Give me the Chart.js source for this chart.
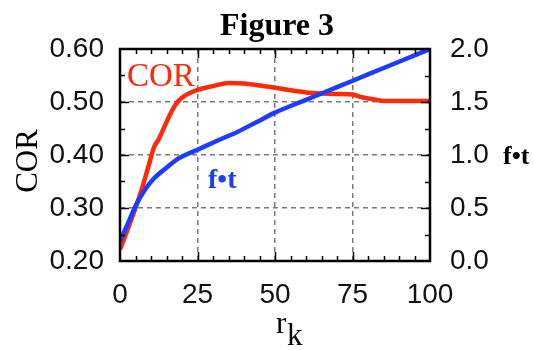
<!DOCTYPE html>
<html>
<head>
<meta charset="utf-8">
<script src="https://cdn.jsdelivr.net/npm/chart.js@4/dist/chart.umd.min.js"></script>
<style>
  html, body { margin: 0; padding: 0; background: #ffffff; }
  #wrap { width: 534px; height: 350px; position: relative; }
</style>
</head>
<body>
<div id="wrap"><canvas id="c" width="534" height="350"></canvas></div>
<script>
// ---- data ----
const chartTitle = "Figure 3";
const xTitle = "r";
const xTitleSub = "k";
const leftTitle = "COR";
const rightTitle = "f•t";
const corLabel = "COR";
const ftLabel = "f•t";

const corX = [0, 2.5, 5, 7, 9, 11, 12.5, 15, 17, 19, 22.5, 25, 30, 35, 40, 45, 50, 55, 60, 65, 70, 75, 78, 82, 85, 100];
const corY = [0.222, 0.26, 0.30, 0.335, 0.375, 0.415, 0.43, 0.462, 0.486, 0.503, 0.517, 0.523, 0.530, 0.536, 0.535, 0.531, 0.527, 0.522, 0.518, 0.516, 0.515, 0.514, 0.509, 0.505, 0.502, 0.502];

const ftX = [0, 2.5, 5, 8, 11, 15, 19, 25, 31, 38, 44, 50, 60, 70, 80, 90, 100];
const ftY = [0.19, 0.35, 0.52, 0.67, 0.78, 0.88, 0.97, 1.05, 1.13, 1.22, 1.31, 1.40, 1.52, 1.64, 1.76, 1.88, 2.0];

const xTicks = [0, 25, 50, 75, 100];
const leftTicks = [0.20, 0.30, 0.40, 0.50, 0.60];
const rightTicks = [0.0, 0.5, 1.0, 1.5, 2.0];

const RED = '#ff2a0a';
const BLUE = '#1e3cff';
const tickFont = { family: '"Liberation Sans", Arial, sans-serif', size: 28 };
const serif = '"Liberation Serif", "Times New Roman", serif';
const DASH = [5, 4];
const GRID = '#7a7a7a';

const framePlugin = {
  id: 'frame',
  afterDatasetsDraw(chart) {
    const ctx = chart.ctx;
    const a = chart.chartArea;
    const xs = chart.scales.x, yl = chart.scales.y, yr = chart.scales.y1;
    ctx.save();
    ctx.strokeStyle = '#000';
    ctx.lineWidth = 1.5;
    for (let v = 5; v < 100; v += 5) {
      const px = Math.round(xs.getPixelForValue(v)) + 0.5;
      const len = (v % 25 === 0) ? 9 : 5;
      ctx.beginPath();
      ctx.moveTo(px, a.bottom); ctx.lineTo(px, a.bottom - len);
      ctx.moveTo(px, a.top); ctx.lineTo(px, a.top + len);
      ctx.stroke();
    }
    for (let i = 1; i < 8; i++) {
      const v = 0.2 + i * 0.05;
      const py = Math.round(yl.getPixelForValue(v)) + 0.5;
      const len = (i % 2 === 0) ? 9 : 5;
      ctx.beginPath();
      ctx.moveTo(a.left, py); ctx.lineTo(a.left + len, py);
      ctx.stroke();
    }
    for (let i = 1; i < 8; i++) {
      const v = i * 0.25;
      const py = Math.round(yr.getPixelForValue(v)) + 0.5;
      const len = (i % 2 === 0) ? 9 : 5;
      ctx.beginPath();
      ctx.moveTo(a.right, py); ctx.lineTo(a.right - len, py);
      ctx.stroke();
    }
    ctx.lineWidth = 2.5;
    ctx.strokeRect(a.left, a.top, a.right - a.left, a.bottom - a.top);
    ctx.restore();
  },
  afterDraw(chart) {
    const ctx = chart.ctx;
    ctx.save();
    ctx.textBaseline = 'alphabetic';
    ctx.fillStyle = '#000';
    ctx.font = 'bold 32px ' + serif;
    ctx.textAlign = 'center';
    ctx.fillText(chartTitle, 277, 35);
    ctx.font = '31px ' + serif;
    ctx.textAlign = 'left';
    ctx.fillText(xTitle, 276, 333);
    ctx.fillText(xTitleSub, 287, 345);
    ctx.save();
    ctx.translate(37, 161);
    ctx.rotate(-Math.PI / 2);
    ctx.textAlign = 'center';
    ctx.font = '31px ' + serif;
    ctx.fillText(leftTitle, 0, 0);
    ctx.restore();
    ctx.font = 'bold 26px ' + serif;
    ctx.textAlign = 'left';
    ctx.fillText(rightTitle, 503, 164);
    ctx.fillStyle = RED;
    ctx.font = '33px ' + serif;
    ctx.fillText(corLabel, 127, 86);
    ctx.fillStyle = BLUE;
    ctx.font = 'bold 28px ' + serif;
    ctx.fillText(ftLabel, 208, 188);
    ctx.restore();
  }
};

new Chart(document.getElementById('c'), {
  type: 'line',
  data: {
    datasets: [
      {
        label: ftLabel,
        data: ftX.map((x, i) => ({ x: x, y: ftY[i] })),
        yAxisID: 'y1',
        borderColor: BLUE,
        borderWidth: 4.5,
        pointRadius: 0,
        cubicInterpolationMode: 'monotone',
        order: 1
      },
      {
        label: corLabel,
        data: corX.map((x, i) => ({ x: x, y: corY[i] })),
        yAxisID: 'y',
        borderColor: RED,
        borderWidth: 4.5,
        pointRadius: 0,
        cubicInterpolationMode: 'monotone',
        order: 2
      }
    ]
  },
  options: {
    responsive: false,
    animation: false,
    layout: { padding: { top: 49, bottom: 0, left: 0, right: 0 } },
    plugins: { legend: { display: false }, tooltip: { enabled: false } },
    scales: {
      x: {
        type: 'linear', min: 0, max: 100,
        afterBuildTicks(s) { s.ticks = xTicks.map(v => ({ value: v })); },
        afterFit(s) { s.height = 89; },
        ticks: { font: tickFont, color: '#111', padding: 17, maxRotation: 0,
                 callback: v => String(v) },
        grid: { color: GRID, lineWidth: 1.5, drawTicks: false, borderDash: DASH, dash: DASH },
        border: { display: false, dash: DASH }
      },
      y: {
        position: 'left', min: 0.2, max: 0.6,
        afterBuildTicks(s) { s.ticks = leftTicks.map(v => ({ value: v })); },
        afterFit(s) { s.width = 120; },
        ticks: { font: tickFont, color: '#111', padding: 16,
                 callback: v => Number(v).toFixed(2) },
        grid: { color: GRID, lineWidth: 1.5, drawTicks: false, borderDash: DASH, dash: DASH },
        border: { display: false, dash: DASH }
      },
      y1: {
        position: 'right', min: 0, max: 2,
        afterBuildTicks(s) { s.ticks = rightTicks.map(v => ({ value: v })); },
        afterFit(s) { s.width = 104; },
        ticks: { font: tickFont, color: '#111', padding: 20,
                 callback: v => Number(v).toFixed(1) },
        grid: { display: false, drawTicks: false },
        border: { display: false }
      }
    }
  },
  plugins: [framePlugin]
});
</script>
</body>
</html>
